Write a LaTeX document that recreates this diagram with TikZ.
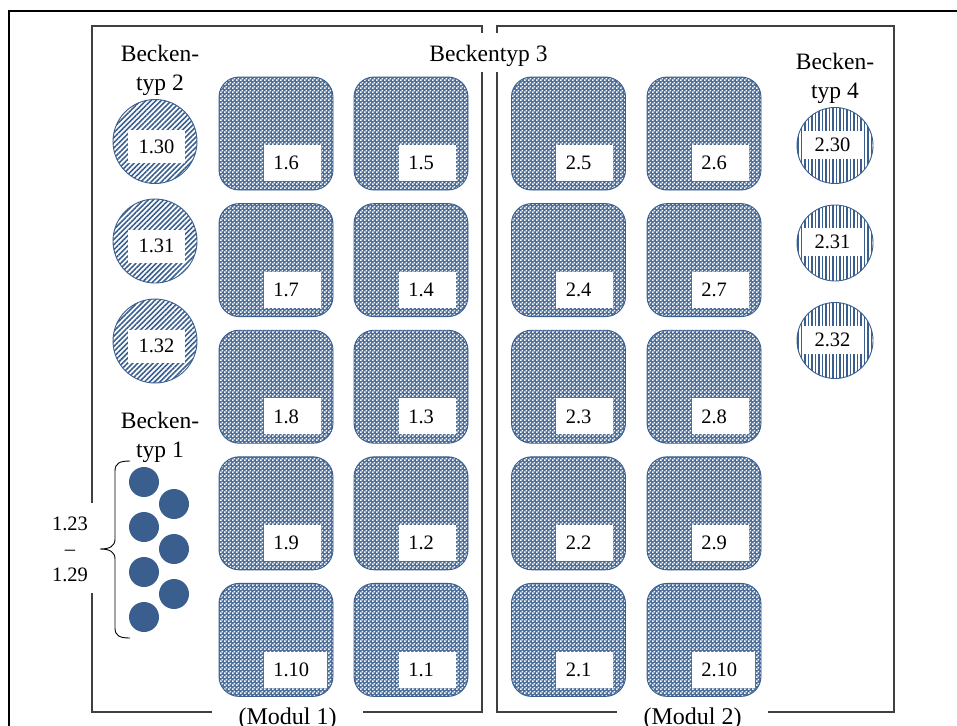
\documentclass[tikz,border=0pt]{standalone}
\usepackage{fontspec}
\setmainfont{Liberation Serif}
\usetikzlibrary{patterns.meta}
\definecolor{pblue}{HTML}{3A5F8F}
\definecolor{framegray}{HTML}{404040}
\tikzdeclarepattern{name=wchecker, type=uncolored,
  bounding box={(0pt,0pt) and (4pt,4pt)}, tile size={(4pt,4pt)},
  code={\fill (0.1pt,0.1pt) rectangle (1.9pt,1.9pt); \fill (2.1pt,2.1pt) rectangle (3.9pt,3.9pt);}}
\begin{document}
\begin{tikzpicture}[x=1pt,y=-1pt,
  numfont/.style={font=\fontsize{20.5}{25.8}\selectfont},
  wordfont/.style={font=\fontsize{23.5}{29}\selectfont},
  modfont/.style={font=\fontsize{24}{29}\selectfont},
  frameline/.style={draw=framegray, line width=1.5pt},
  tile/.style={draw=pblue, line width=0.9pt, rounded corners=20pt, minimum width=114pt,
    minimum height=113pt, inner sep=0pt, preaction={fill=pblue!92}, pattern=wchecker, pattern color=white},
  tlabel/.style={fill=white, inner sep=0pt, minimum height=36pt, align=left,
    anchor=south west, numfont},
  ctwo/.style={circle, draw=pblue, line width=0.9pt, minimum size=84pt, inner sep=0pt,
    pattern={Lines[angle=45,distance=3.6pt,line width=1.6pt]}, pattern color=pblue},
  cfour/.style={circle, draw=pblue, line width=0.9pt, minimum size=76pt, inner sep=0pt,
    pattern={Lines[angle=90,distance=3.5pt,line width=1.3pt]}, pattern color=pblue},
  ltwo/.style={fill=white, inner sep=0pt, minimum width=57pt, minimum height=33pt, numfont},
  lfour/.style={fill=white, inner sep=0pt, minimum width=59pt, minimum height=28pt, numfont},
  dot/.style={circle, fill=pblue, minimum size=30pt, inner sep=0pt}
]
\useasboundingbox (0,0) rectangle (957,725);
\clip (0,0) rectangle (957,725);
\fill[white] (0,0) rectangle (957,725);
% outer frame
\draw[black, line width=2.2pt] (9,760) -- (9,11) -- (990,11);
% module frames with gaps
\draw[frameline] (212,712) -- (92,712) -- (92,593);
\draw[frameline] (92,503) -- (92,26) -- (482,26) -- (482,33);
\draw[frameline] (482,72) -- (482,712) -- (363,712);
\draw[frameline] (617,712) -- (497,712) -- (497,72);
\draw[frameline] (497,33) -- (497,26) -- (894,26) -- (894,712) -- (768,712);
% titles
\node[wordfont, anchor=base] (bt3) at (488.5,62) {Beckentyp 3};
\node[modfont, anchor=base] (m1) at (287.5,724.7) {(Modul 1)};
\node[modfont, anchor=base] (m2) at (692.5,724.7) {(Modul 2)};
\node[wordfont, align=center] (bt2) at (160,70) {Becken-\\typ 2};
\node[wordfont, align=center] (bt4) at (835,78.5) {Becken-\\typ 4};
\node[wordfont, align=center] (bt1) at (160,437) {Becken-\\typ 1};
% tiles
\foreach \id/\n/\x/\y/\w in {
  16/1.6/276/133.5/57, 17/1.7/276/260.1/57, 18/1.8/276/386.7/57, 19/1.9/276/513.3/57, 110/1.10/276/639.9/63,
  15/1.5/411/133.5/57, 14/1.4/411/260.1/57, 13/1.3/411/386.7/57, 12/1.2/411/513.3/57, 11/1.1/411/639.9/57,
  25/2.5/568.5/133.5/57, 24/2.4/568.5/260.1/57, 23/2.3/568.5/386.7/57, 22/2.2/568.5/513.3/57, 21/2.1/568.5/639.9/57,
  26/2.6/704/133.5/57, 27/2.7/704/260.1/57, 28/2.8/704/386.7/57, 29/2.9/704/513.3/57, 210/2.10/704/639.9/63}{
  \node[tile] (t\id) at (\x,\y) {};
  \node[tlabel, text width=\w pt] (l\id) at ([xshift=45pt,yshift=9pt]t\id.south west) {\hspace*{9.5pt}\n};
}
% type 2 circles
\foreach \id/\n/\y in {130/1.30/141.5, 131/1.31/241, 132/1.32/341}{
  \node[ctwo] (c\id) at (155,\y) {};
  \node[ltwo] (cl\id) at ([xshift=1.5pt,yshift=-5pt]c\id.center) {\n};
}
% type 4 circles
\foreach \id/\n/\y in {230/2.30/145.5, 231/2.31/243, 232/2.32/340.5}{
  \node[cfour] (c\id) at (835,\y) {};
  \node[lfour] (cl\id) at ([xshift=-2.5pt,yshift=1pt]c\id.center) {\n};
}
% type 1 dots
\node[dot] (d1) at (144,482) {};
\node[dot] (d2) at (174,504) {};
\node[dot] (d3) at (144,527) {};
\node[dot] (d4) at (174,549) {};
\node[dot] (d5) at (144,572) {};
\node[dot] (d6) at (174,594) {};
\node[dot] (d7) at (144,617) {};
% brace
\draw[black, line width=0.9pt] (130,461) .. controls (120,461) and (115,463) .. (115,471)
  -- (115,539) .. controls (115,546) and (110,549) .. (100,549)
  .. controls (110,549) and (115,552) .. (115,559)
  -- (115,628) .. controls (115,636) and (120,638) .. (130,638);
\node[numfont, align=center] (range) at (70,549.3) {1.23\\–\\1.29};
\end{tikzpicture}
\end{document}
